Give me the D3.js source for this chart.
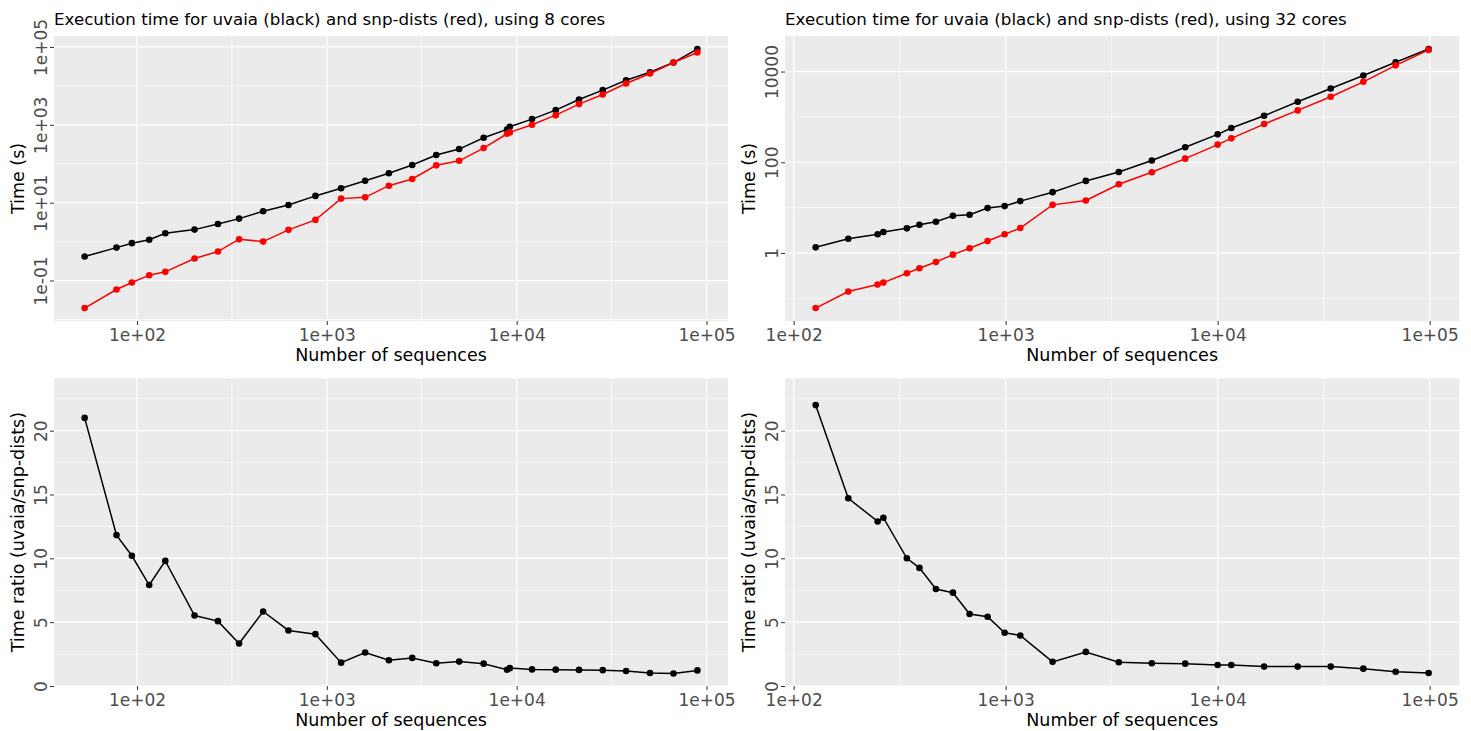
<!DOCTYPE html>
<html>
<head>
  <meta charset="utf-8">
  <style>
    body { margin: 0; background: #fff; }
    text { font-family: "DejaVu Sans", sans-serif; }
  </style>
</head>
<body>
<svg id="chart" width="1471" height="731"></svg>
<script src="https://d3js.org/d3.v7.min.js"></script>
<script>
// 8 cores
var n8 = [53, 78, 94, 116, 141, 201, 267, 345, 462, 628, 871, 1189, 1592, 2123, 2818, 3770, 4980, 6700, 8900, 9200, 12050, 16060, 21300, 28400, 37700, 50400, 67000, 89500];
var uvaia8 = [0.412, 0.70, 0.91, 1.11, 1.64, 2.03, 2.84, 3.89, 6.01, 8.73, 14.9, 23.4, 36.6, 56.8, 92.7, 167, 238, 465, 759, 891, 1400, 2380, 4480, 7760, 14000, 22400, 39800, 88900];
var snp8 = [0.0196, 0.0587, 0.0889, 0.137, 0.167, 0.366, 0.555, 1.15, 1.0, 2.0, 3.6, 12.7, 13.7, 27.3, 40.6, 91.0, 119, 253, 589, 638, 1000, 1770, 3400, 6010, 11500, 20800, 39800, 71800];
var ratio8 = [21.0, 11.82, 10.2, 7.91, 9.8, 5.52, 5.08, 3.33, 5.84, 4.35, 4.06, 1.83, 2.62, 2.02, 2.2, 1.78, 1.91, 1.75, 1.27, 1.40, 1.30, 1.28, 1.26, 1.24, 1.18, 1.02, 0.98, 1.22];

// 32 cores
var n32 = [127, 181, 249, 265, 342, 392, 469, 564, 676, 822, 989, 1172, 1665, 2389, 3418, 4890, 7030, 10000, 11600, 16560, 23860, 34140, 48660, 69100, 98900];
var uvaia32 = [1.33, 2.06, 2.58, 2.90, 3.49, 4.19, 4.88, 6.61, 6.95, 9.75, 10.8, 13.9, 21.9, 38.8, 61.2, 109, 214, 412, 568, 1060, 2160, 4230, 8170, 16000, 31500];
var snp32 = [0.061, 0.141, 0.201, 0.222, 0.358, 0.461, 0.634, 0.918, 1.27, 1.84, 2.58, 3.54, 11.5, 14.4, 32.8, 60.3, 120, 245, 337, 695, 1390, 2780, 5940, 13700, 30000];
var ratio32 = [22.0, 14.7, 12.89, 13.18, 10.0, 9.25, 7.6, 7.31, 5.64, 5.42, 4.17, 3.96, 1.89, 2.67, 1.86, 1.78, 1.75, 1.65, 1.65, 1.52, 1.52, 1.52, 1.36, 1.12, 1.02];

var xTicks = [1e2, 1e3, 1e4, 1e5];
var xTickLabels = ["1e+02", "1e+03", "1e+04", "1e+05"];
var y8Ticks = [1e-1, 1e1, 1e3, 1e5];
var y8TickLabels = ["1e-01", "1e+01", "1e+03", "1e+05"];
var y32Ticks = [1, 100, 10000];
var y32TickLabels = ["1", "100", "10000"];
var ratioTicks = [0, 5, 10, 15, 20];
var ratioMax = 24.1;

var titles = ["Execution time for uvaia (black) and snp-dists (red), using 8 cores",
              "Execution time for uvaia (black) and snp-dists (red), using 32 cores"];

var svg = d3.select("#chart");

// ggplot-like 5% expansion in log space
function logExtent(vals) {
  var lo = Math.log10(d3.min(vals)), hi = Math.log10(d3.max(vals)), e = (hi - lo) * 0.05;
  return [Math.pow(10, lo - e), Math.pow(10, hi + e)];
}

function drawPanel(o) {
  var g = svg.append("g");
  var x = d3.scaleLog().domain(logExtent(o.n)).range([o.left, o.right]);
  var y = o.yLog
    ? d3.scaleLog().domain(logExtent(o.series.reduce(function(a, s) { return a.concat(s); }, []))).range([o.bottom, o.top])
    : d3.scaleLinear().domain([0, ratioMax]).range([o.bottom, o.top]);

  g.append("rect")
    .attr("x", o.left).attr("y", o.top)
    .attr("width", o.right - o.left).attr("height", o.bottom - o.top)
    .attr("fill", "#ebebeb");

  // minor grid (midway between majors)
  var xMinor = [Math.pow(10, 1.5), Math.pow(10, 2.5), Math.pow(10, 3.5), Math.pow(10, 4.5), Math.pow(10, 5.5)];
  var yMinor;
  if (o.yLog) {
    var lt = o.yTicks.map(function(v) { return Math.log10(v); });
    var step = lt[1] - lt[0];
    yMinor = d3.range(lt[0] - step, lt[lt.length - 1] + step * 1.01, step).map(function(v) { return Math.pow(10, v + step / 2); });
  } else {
    yMinor = [2.5, 7.5, 12.5, 17.5, 22.5];
  }
  var yd = y.domain(), xd = x.domain();
  g.selectAll(".xminor").data(xMinor.filter(function(v) { return v >= xd[0] && v <= xd[1]; }))
    .enter().append("line")
    .attr("x1", function(d) { return x(d); }).attr("x2", function(d) { return x(d); })
    .attr("y1", o.top).attr("y2", o.bottom)
    .attr("stroke", "#fff").attr("stroke-width", 0.6);
  g.selectAll(".yminor").data(yMinor.filter(function(v) { return v >= yd[0] && v <= yd[1]; }))
    .enter().append("line")
    .attr("y1", function(d) { return y(d); }).attr("y2", function(d) { return y(d); })
    .attr("x1", o.left).attr("x2", o.right)
    .attr("stroke", "#fff").attr("stroke-width", 0.6);
  // major grid
  g.selectAll(".xmajor").data(xTicks)
    .enter().append("line")
    .attr("x1", function(d) { return x(d); }).attr("x2", function(d) { return x(d); })
    .attr("y1", o.top).attr("y2", o.bottom)
    .attr("stroke", "#fff").attr("stroke-width", 1.2);
  g.selectAll(".ymajor").data(o.yTicks)
    .enter().append("line")
    .attr("y1", function(d) { return y(d); }).attr("y2", function(d) { return y(d); })
    .attr("x1", o.left).attr("x2", o.right)
    .attr("stroke", "#fff").attr("stroke-width", 1.2);

  // axes
  var xAxis = d3.axisBottom(x).tickValues(xTicks)
    .tickFormat(function(d, i) { return xTickLabels[i]; })
    .tickSize(4).tickPadding(6);
  var gx = g.append("g").attr("transform", "translate(0," + o.bottom + ")").call(xAxis);
  gx.select(".domain").remove();
  gx.selectAll(".tick line").attr("stroke", "#333");
  gx.selectAll(".tick text")
    .attr("fill", "#4d4d4d").style("font-size", "17px")
    .attr("dy", null).attr("y", 20);

  var yAxis = d3.axisLeft(y).tickValues(o.yTicks)
    .tickFormat(function(d, i) { return o.yTickLabels[i]; })
    .tickSize(4);
  var gy = g.append("g").attr("transform", "translate(" + o.left + ",0)").call(yAxis);
  gy.select(".domain").remove();
  gy.selectAll(".tick line").attr("stroke", "#333");
  gy.selectAll(".tick text")
    .attr("fill", "#4d4d4d").style("font-size", "17px")
    .attr("text-anchor", "middle")
    .attr("transform", "rotate(-90)")
    .attr("x", 0).attr("dy", null).attr("y", -7.5);

  // axis titles
  g.append("text")
    .attr("x", (o.left + o.right) / 2).attr("y", o.bottom + 39.5)
    .attr("text-anchor", "middle").style("font-size", "17.5px")
    .text("Number of sequences");
  g.append("text")
    .attr("transform", "translate(" + (o.left - 30) + "," + ((o.top + o.bottom) / 2) + ") rotate(-90)")
    .attr("text-anchor", "middle").style("font-size", "17.5px")
    .text(o.yTitle);

  if (o.title) {
    g.append("text")
      .attr("x", o.left).attr("y", 25)
      .style("font-size", "16.7px")
      .text(o.title);
  }

  // series
  var line = d3.line()
    .x(function(d) { return x(d[0]); })
    .y(function(d) { return y(d[1]); });
  o.series.forEach(function(s, k) {
    var pts = o.n.map(function(v, i) { return [v, s[i]]; });
    g.append("path").datum(pts)
      .attr("d", line).attr("fill", "none")
      .attr("stroke", o.colors[k]).attr("stroke-width", 1.5);
    g.selectAll(".pt" + k).data(pts)
      .enter().append("circle")
      .attr("cx", function(d) { return x(d[0]); })
      .attr("cy", function(d) { return y(d[1]); })
      .attr("r", 3.3).attr("fill", o.colors[k]);
  });
}

drawPanel({ left: 54, right: 728, top: 36, bottom: 321, n: n8, series: [uvaia8, snp8], colors: ["#000", "#ff0000"],
  yLog: true, yTicks: y8Ticks, yTickLabels: y8TickLabels, yTitle: "Time (s)", title: titles[0] });
drawPanel({ left: 785, right: 1459.3, top: 36, bottom: 321, n: n32, series: [uvaia32, snp32], colors: ["#000", "#ff0000"],
  yLog: true, yTicks: y32Ticks, yTickLabels: y32TickLabels, yTitle: "Time (s)", title: titles[1] });
drawPanel({ left: 54, right: 728, top: 378.3, bottom: 686, n: n8, series: [ratio8], colors: ["#000"],
  yLog: false, yTicks: ratioTicks, yTickLabels: ratioTicks.map(String), yTitle: "Time ratio (uvaia/snp-dists)" });
drawPanel({ left: 785, right: 1459.3, top: 378.3, bottom: 686, n: n32, series: [ratio32], colors: ["#000"],
  yLog: false, yTicks: ratioTicks, yTickLabels: ratioTicks.map(String), yTitle: "Time ratio (uvaia/snp-dists)" });
</script>
</body>
</html>
